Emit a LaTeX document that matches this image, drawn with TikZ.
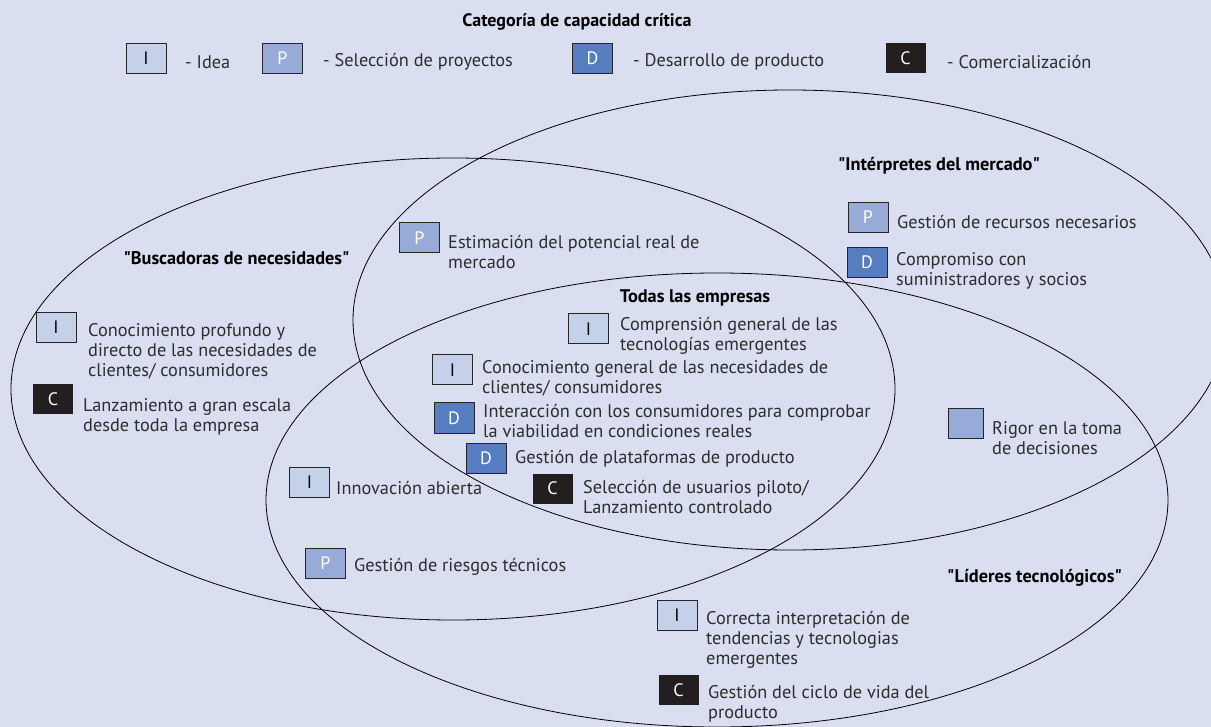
\documentclass[tikz,border=0pt]{standalone}
\usepackage{fontspec}
\setmainfont{PT Sans}
\usetikzlibrary{positioning}
\definecolor{bgcol}{RGB}{217,222,240}
\definecolor{idea}{RGB}{197,208,233}
\definecolor{selec}{RGB}{151,170,216}
\definecolor{desar}{RGB}{86,125,192}
\definecolor{comer}{RGB}{35,31,32}
\definecolor{txtcol}{RGB}{45,45,45}
\newcommand{\qt}[1]{\textquotedbl#1\textquotedbl}

\begin{document}
\begin{tikzpicture}[x=1pt, y=-1pt,
  cat/.style={minimum width=40pt, minimum height=30pt, inner sep=0pt, line width=1pt, font=\fontsize{18}{18}\selectfont},
  ibox/.style={cat, draw=black!85, fill=idea, text=black},
  pbox/.style={cat, draw=black!85, fill=selec, text=white},
  dbox/.style={cat, draw=black!85, fill=desar, text=white},
  cbox/.style={cat, fill=comer, text=white},
  txt/.style={anchor=west, inner sep=0pt, align=left, text=txtcol, font=\fontsize{18.3}{20}\selectfont},
  grp/.style={inner sep=0pt, text=black, font=\bfseries\fontsize{18.3}{20}\selectfont},
  ring/.style={draw=black, line width=0.8pt},
]
\useasboundingbox[fill=bgcol] (0,0) rectangle (1211,727);

\begin{scope}
\clip (0,0) rectangle (1211,727);
\draw[ring] (453,389) ellipse [x radius=442, y radius=231];
\draw[ring] (790,320) ellipse [x radius=437, y radius=230];
\draw[ring] (717,500) ellipse [x radius=451, y radius=227];
\end{scope}

% legend
\node[grp, font=\bfseries\fontsize{18}{20}\selectfont] (title) at (577,22) {Categoría de capacidad crítica};
\node[ibox] (legI) at (146,58.5) {I};
\node[txt] at (185,62) {- Idea};
\node[pbox] (legP) at (282.5,58.5) {P};
\node[txt] at (323,62) {- Selección de proyectos};
\node[dbox] (legD) at (592.5,58.5) {D};
\node[txt] at (633,62) {- Desarrollo de producto};
\node[cbox] (legC) at (905.5,58.5) {C};
\node[txt] at (947,62) {- Comercialización};

% group names
\node[grp] (busc) at (236.5,258) {\qt{Buscadoras de necesidades}};
\node[grp] (interp) at (939,166) {\qt{Intérpretes del mercado}};
\node[grp] (todas) at (695,298) {Todas las empresas};
\node[grp] (lider) at (1034.5,578) {\qt{Líderes tecnológicos}};

% Intérpretes del mercado
\node[pbox] (recP) at (868,217.5) {P};
\node[txt] at (897,222) {Gestión de recursos necesarios};
\node[dbox] (socD) at (867,262.5) {D};
\node[txt] at (896,271) {Compromiso con\\suministradores y socios};
\node[pbox] (estP) at (419.5,238) {P};
\node[txt] at (448,252.5) {Estimación del potencial real de\\mercado};

% Buscadoras de necesidades
\node[ibox] (profI) at (56,327.5) {I};
\node[txt] at (88,351) {Conocimiento profundo y\\directo de las necesidades de\\clientes/ consumidores};
\node[cbox] (lanC) at (53,399.5) {C};
\node[txt] at (83,416.5) {Lanzamiento a gran escala\\desde toda la empresa};

% Todas las empresas
\node[ibox] (compI) at (588.5,329) {I};
\node[txt] at (620,336) {Comprensión general de las\\tecnologías emergentes};
\node[ibox] (genI) at (452.5,370) {I};
\node[txt] at (482,378) {Conocimiento general de las necesidades de\\clientes/ consumidores};
\node[dbox] (intD) at (454,418) {D};
\node[txt] at (483,421.5) {Interacción con los consumidores para comprobar\\la viabilidad en condiciones reales};
\node[dbox] (platD) at (486,458) {D};
\node[txt] at (515,459) {Gestión de plataformas de producto};
\node[cbox] (pilC) at (552.5,488.5) {C};
\node[txt] at (583,497) {Selección de usuarios piloto/\\Lanzamiento controlado};

% Buscadoras + Líderes
\node[ibox] (abiI) at (309.5,482.5) {I};
\node[txt] at (336,488) {Innovación abierta};
\node[pbox] (riesP) at (325.5,563.5) {P};
\node[txt] at (354,567) {Gestión de riesgos técnicos};

% Intérpretes + Líderes
\node[pbox, minimum width=35pt] (rigP) at (966,423.5) {};
\node[txt] at (992,438.5) {Rigor en la toma\\de decisiones};

% Líderes tecnológicos
\node[ibox] (tendI) at (677,615) {I};
\node[txt] at (706,640) {Correcta interpretación de\\tendencias y tecnologias\\emergentes};
\node[cbox] (cicC) at (678.5,690) {C};
\node[txt] at (708,704) {Gestión del ciclo de vida del\\producto};
\end{tikzpicture}
\end{document}
